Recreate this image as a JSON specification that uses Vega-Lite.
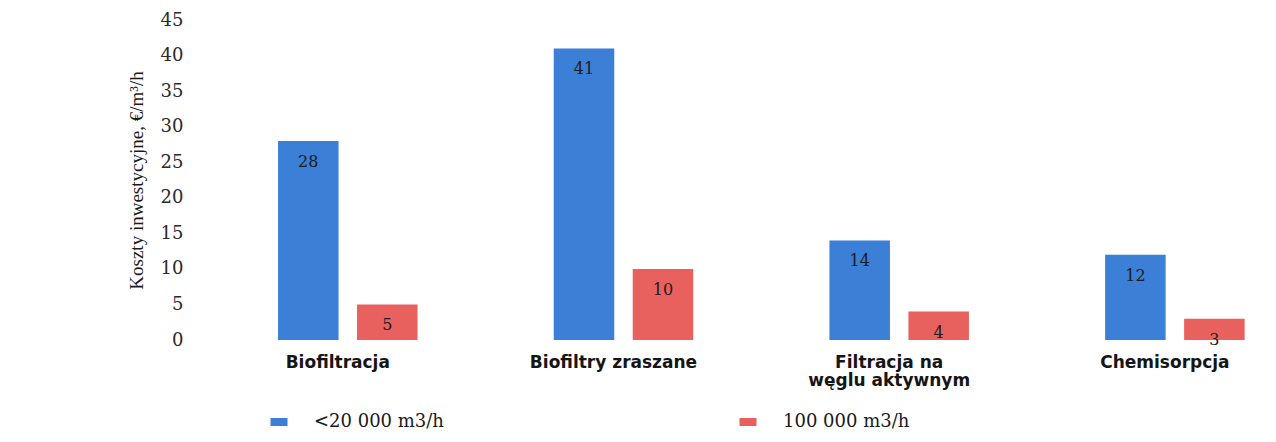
{
  "$schema": "https://vega.github.io/schema/vega-lite/v6.json",
  "autosize": "none",
  "width": 1075,
  "height": 320,
  "padding": {"left": 195, "top": 20, "right": 6, "bottom": 102},
  "background": "white",
  "config": {"view": {"stroke": null}},
  "data": {
    "values": [
      {"metoda": "Biofiltracja", "wydajnosc": "<20 000 m3/h", "koszt": 28},
      {"metoda": "Biofiltracja", "wydajnosc": "100 000 m3/h", "koszt": 5},
      {"metoda": "Biofiltry zraszane", "wydajnosc": "<20 000 m3/h", "koszt": 41},
      {"metoda": "Biofiltry zraszane", "wydajnosc": "100 000 m3/h", "koszt": 10},
      {"metoda": "Filtracja na węglu aktywnym", "wydajnosc": "<20 000 m3/h", "koszt": 14},
      {"metoda": "Filtracja na węglu aktywnym", "wydajnosc": "100 000 m3/h", "koszt": 4},
      {"metoda": "Chemisorpcja", "wydajnosc": "<20 000 m3/h", "koszt": 12},
      {"metoda": "Chemisorpcja", "wydajnosc": "100 000 m3/h", "koszt": 3}
    ]
  },
  "encoding": {
    "x": {
      "field": "metoda",
      "type": "nominal",
      "sort": null,
      "scale": {"paddingInner": 0.494, "paddingOuter": 0.1966, "align": 0.766},
      "axis": {
        "title": null,
        "domain": false,
        "ticks": false,
        "labelAngle": 0,
        "labelPadding": 14,
        "labelOffset": -10,
        "labelBaseline": "top",
        "labelFont": "DejaVu Sans",
        "labelFontWeight": "bold",
        "labelFontSize": 17,
        "labelLineHeight": 18,
        "labelColor": "#151515",
        "labelExpr": "datum.label == 'Filtracja na węglu aktywnym' ? ['Filtracja na', 'węglu aktywnym'] : datum.label"
      }
    },
    "xOffset": {
      "field": "wydajnosc",
      "type": "nominal",
      "sort": ["<20 000 m3/h", "100 000 m3/h"],
      "scale": {"paddingInner": 0.234, "paddingOuter": 0}
    },
    "y": {
      "field": "koszt",
      "type": "quantitative",
      "scale": {"domain": [0, 45], "nice": false},
      "axis": {
        "title": "Koszty inwestycyjne, €/m³/h",
        "titleFont": "Liberation Serif",
        "titleFontWeight": "normal",
        "titleFontSize": 19,
        "titleColor": "#1a1a1a",
        "titlePadding": 14,
        "values": [0, 5, 10, 15, 20, 25, 30, 35, 40, 45],
        "grid": false,
        "domain": false,
        "ticks": false,
        "labelPadding": 12,
        "labelFont": "DejaVu Serif",
        "labelFontSize": 18,
        "labelColor": "#2a2a2a"
      }
    }
  },
  "layer": [
    {
      "mark": {"type": "bar"},
      "encoding": {
        "color": {
          "field": "wydajnosc",
          "type": "nominal",
          "scale": {"domain": ["<20 000 m3/h", "100 000 m3/h"], "range": ["#3b7fd6", "#e8615f"]},
          "legend": {
            "title": null,
            "orient": "none",
            "direction": "horizontal",
            "legendX": 75,
            "legendY": 393,
            "symbolType": "M-1,-0.47H1V0.47H-1Z",
            "symbolSize": 289,
            "symbolStrokeWidth": 0,
            "labelOffset": 26,
            "columnPadding": 295,
            "labelFont": "DejaVu Serif",
            "labelFontSize": 18,
            "labelColor": "#1a1a1a"
          }
        }
      }
    },
    {
      "mark": {"type": "text", "baseline": "middle", "dy": 21, "font": "DejaVu Serif", "fontSize": 16, "color": "#1c1c1c"},
      "encoding": {
        "text": {"field": "koszt", "type": "quantitative"}
      }
    }
  ]
}
